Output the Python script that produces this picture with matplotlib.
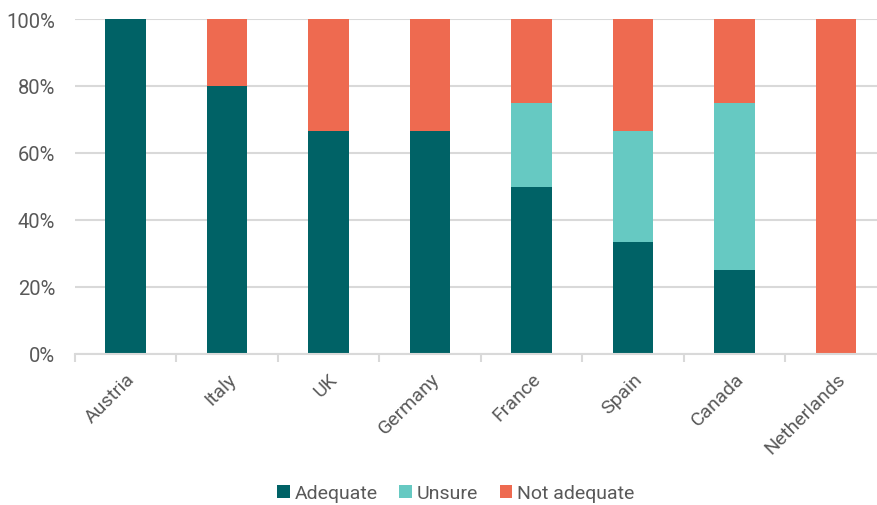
import matplotlib
matplotlib.use("Agg")
import matplotlib.pyplot as plt
from matplotlib.ticker import PercentFormatter, FixedLocator
import numpy as np

plt.rcParams['font.family'] = ['Roboto', 'DejaVu Sans']

countries = ["Austria", "Italy", "UK", "Germany", "France", "Spain", "Canada", "Netherlands"]
adequate = [100, 80, 66.7, 66.7, 50, 33.3, 25, 0]
unsure = [0, 0, 0, 0, 25, 33.3, 50, 0]
not_adequate = [0, 20, 33.3, 33.3, 25, 33.4, 25, 100]

series = [("Adequate", adequate, "#006266"),
          ("Unsure", unsure, "#66C9C2"),
          ("Not adequate", not_adequate, "#EE6A50")]

W, H = 877, 506
fig = plt.figure(figsize=(W / 100, H / 100), dpi=100)
left, right, top, bottom = 74.75, 877, 20, 355
ax = fig.add_axes([left / W, 1 - bottom / H, (right - left) / W, (bottom - top) / H])

x = np.arange(len(countries))
base = np.zeros(len(countries))
for name, vals, color in series:
    vals = np.array(vals, dtype=float)
    ax.bar(x, vals, bottom=base, width=0.4, color=color, label=name, zorder=3)
    base += vals

grid_c = "#d9d9d9"
text_c = "#595959"
ax.set_ylim(0, 100)
ax.set_xlim(-0.5, 7.5 - 9.75 / 101.5)
ax.set_yticks([0, 20, 40, 60, 80, 100])
ax.yaxis.set_major_formatter(PercentFormatter(decimals=0))
ax.grid(axis="y", color=grid_c, linewidth=1.5, zorder=0)
ax.set_axisbelow(True)

for s in ["top", "right", "left"]:
    ax.spines[s].set_visible(False)
ax.spines["bottom"].set_color(grid_c)
ax.spines["bottom"].set_linewidth(1.5)
ax.spines["bottom"].set_zorder(4)

ax.set_xticks(x)
ax.set_xticklabels(countries, rotation=45, ha="right", rotation_mode="anchor")
ax.xaxis.set_minor_locator(FixedLocator(np.arange(-0.5, 7.5, 1.0)))
ax.tick_params(axis="x", which="major", length=0, pad=11, labelsize=14, labelcolor=text_c)
ax.tick_params(axis="x", which="minor", length=6, width=1.5, color=grid_c)
ax.tick_params(axis="y", length=0, pad=14, labelsize=14.5, labelcolor=text_c)

fig.legend(loc="center", bbox_to_anchor=(456 / W, 1 - 494 / H), ncol=3, frameon=False,
           fontsize=14, handlelength=0.65, handleheight=0.65, handletextpad=0.25,
           columnspacing=1.1, labelcolor=text_c)

fig.savefig("out.png", dpi=100)
